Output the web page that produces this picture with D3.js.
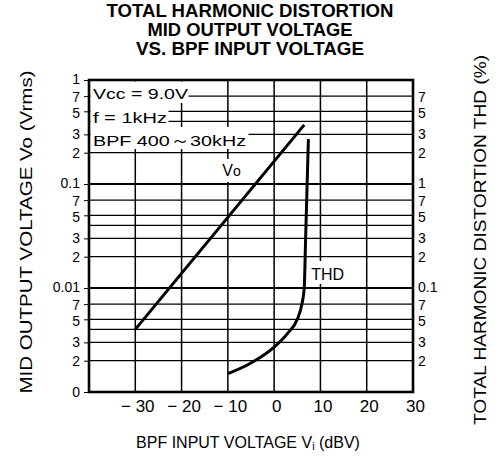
<!DOCTYPE html>
<html>
<head>
<meta charset="utf-8">
<script src="https://cdn.jsdelivr.net/npm/d3@7"></script>
<style>
  html, body { margin: 0; padding: 0; background: #fff; }
  svg { display: block; }
  text { font-family: "Liberation Sans", Arial, sans-serif; fill: #000; }
</style>
</head>
<body>
<svg id="chart" width="502" height="457"></svg>
<script>
// ---- data ----
const titleLines = ["TOTAL HARMONIC DISTORTION", "MID OUTPUT VOLTAGE", "VS. BPF INPUT VOLTAGE"];
const xTicks = [-30, -20, -10, 0, 10, 20, 30];
const xTickLabels = ["\u2212 30", "\u2212 20", "\u2212 10", "0", "10", "20", "30"];
const leftTickValues = [1, 0.7, 0.5, 0.3, 0.2, 0.1, 0.07, 0.05, 0.03, 0.02, 0.01, 0.007, 0.005, 0.003, 0.002, 0.001];
const leftTickLabels = ["1", "7", "5", "3", "2", "0.1", "7", "5", "3", "2", "0.01", "7", "5", "3", "2", "0"];
const rightTickValues = [7, 5, 3, 2, 1, 0.7, 0.5, 0.3, 0.2, 0.1, 0.07, 0.05, 0.03, 0.02];
const rightTickLabels = ["7", "5", "3", "2", "1", "7", "5", "3", "2", "0.1", "7", "5", "3", "2"];
const gridMultipliers = [2, 3, 4, 5, 7];
const decades = [0.001, 0.01, 0.1];
// Vo (Vrms) vs Vi (dBV)
const voVin = [-30, 6.5];
const voValues = [0.004, 0.37];
// THD (%) vs Vi (dBV)
const thdVin = [-10, -5, 0, 3, 5, 6, 6.5, 6.8, 7.1, 7.4];
const thdValues = [0.015, 0.019, 0.027, 0.037, 0.05, 0.07, 0.1, 0.3, 0.9, 2.7];
const conditions = ["Vcc = 9.0V", "f = 1kHz", "BPF  400\uFF5E30kHz"];

// ---- layout ----
const L = 89, R = 413, T = 80, B = 392;
const svg = d3.select("#chart");
const x = d3.scaleLinear().domain([-40, 30]).range([L, R]);
const yL = d3.scaleLog().domain([0.001, 1]).range([B, T]);
const yR = d3.scaleLog().domain([0.01, 10]).range([B, T]);

// title
const titleY = [17, 36, 55];
const titleW = [287, 205, 228];
titleLines.forEach((t, i) => {
  svg.append("text").attr("x", 250).attr("y", titleY[i]).attr("text-anchor", "middle")
    .attr("font-weight", "bold").attr("font-size", 18)
    .attr("textLength", titleW[i]).attr("lengthAdjust", "spacingAndGlyphs").text(t);
});

// grid
const minorVals = [];
decades.forEach(d => gridMultipliers.forEach(m => minorVals.push(+(d * m).toPrecision(3))));
const g = svg.append("g");
g.selectAll("line.hmin").data(minorVals).join("line")
  .attr("x1", L).attr("x2", R).attr("y1", d => yL(d)).attr("y2", d => yL(d))
  .attr("stroke", "#000").attr("stroke-width", 1.3);
g.selectAll("line.hmaj").data([0.01, 0.1]).join("line")
  .attr("x1", L).attr("x2", R).attr("y1", d => yL(d)).attr("y2", d => yL(d))
  .attr("stroke", "#000").attr("stroke-width", 2);
g.selectAll("line.v").data(xTicks.slice(0, -1)).join("line")
  .attr("x1", d => x(d)).attr("x2", d => x(d)).attr("y1", T).attr("y2", B)
  .attr("stroke", "#000").attr("stroke-width", 1.5);

// white masks behind in-plot labels
const condY = [99, 123, 146];
const condW = [98, 78, 158];
const condMaskTop = [T + 1.5, 103, 127];
const condMaskBot = [103, 127, 149];
conditions.forEach((c, i) => {
  svg.append("rect").attr("x", L + 1.5).attr("y", condMaskTop[i])
    .attr("width", condW[i]).attr("height", condMaskBot[i] - condMaskTop[i]).attr("fill", "#fff");
});
svg.append("rect").attr("x", x(-11.8)).attr("y", 159).attr("width", 24).attr("height", 23).attr("fill", "#fff");
svg.append("rect").attr("x", x(7.2)).attr("y", 261).attr("width", 44).attr("height", 23).attr("fill", "#fff");

conditions.forEach((c, i) => {
  svg.append("text").attr("x", 93).attr("y", condY[i]).attr("font-size", 15.5)
    .attr("textLength", [95, 74, 153][i]).attr("lengthAdjust", "spacingAndGlyphs").text(c);
});
const voLab = svg.append("text").attr("x", x(-11.2)).attr("y", 176).attr("font-size", 16);
voLab.append("tspan").text("V");
voLab.append("tspan").attr("font-size", 14).text("o");
svg.append("text").attr("x", x(8)).attr("y", 280).attr("font-size", 16).text("THD");

// frame
svg.append("rect").attr("x", L).attr("y", T).attr("width", R - L).attr("height", B - T)
  .attr("fill", "none").attr("stroke", "#000").attr("stroke-width", 2.6);

// small vertical nudges of crowded labels
const nudge = lab => lab === "7" ? 0.5 : (lab === "5" ? 1.5 : (lab.length > 1 || lab === "1" ? -0.5 : 0));

// axes (labels only)
const axL = d3.axisLeft(yL).tickValues(leftTickValues)
  .tickFormat((d, i) => leftTickLabels[i]).tickSize(4).tickPadding(4);
const gL = svg.append("g").attr("transform", `translate(${L - 1},0)`).call(axL);
gL.select(".domain").remove();
gL.selectAll("text").attr("font-size", 14).attr("font-family", "Liberation Sans, Arial, sans-serif")
  .attr("transform", (d, i) => `translate(0,${nudge(leftTickLabels[i])}) scale(1.06,1.15)`)
  .attr("transform", (d, i) => `translate(0,${nudge(leftTickLabels[i])})`);

const axR = d3.axisRight(yR).tickValues(rightTickValues)
  .tickFormat((d, i) => rightTickLabels[i]).tickSize(0).tickPadding(5);
const gR = svg.append("g").attr("transform", `translate(${R},0)`).call(axR);
gR.select(".domain").remove();
gR.selectAll("text").attr("font-size", 14).attr("font-family", "Liberation Sans, Arial, sans-serif")
  .attr("transform", (d, i) => `translate(0,${nudge(rightTickLabels[i])})`);

const axB = d3.axisBottom(x).tickValues(xTicks)
  .tickFormat((d, i) => xTickLabels[i]).tickSize(0).tickPadding(8);
const gB = svg.append("g").attr("transform", `translate(2,${B})`).call(axB);
gB.select(".domain").remove();
gB.selectAll("text").attr("font-size", 17).attr("font-family", "Liberation Sans, Arial, sans-serif");

// curves
const voLine = d3.line().x(d => x(d[0])).y(d => yL(d[1]));
svg.append("path").datum(voVin.map((v, i) => [v, voValues[i]]))
  .attr("d", voLine).attr("fill", "none").attr("stroke", "#000").attr("stroke-width", 3);
const thdLine = d3.line().x(d => x(d[0])).y(d => yR(d[1])).curve(d3.curveMonotoneX);
svg.append("path").datum(thdVin.map((v, i) => [v, thdValues[i]]))
  .attr("d", thdLine).attr("fill", "none").attr("stroke", "#000").attr("stroke-width", 3);

// axis titles
svg.append("text").attr("transform", "translate(32,232) rotate(-90)").attr("text-anchor", "middle")
  .attr("font-size", 17).attr("textLength", 323).attr("lengthAdjust", "spacingAndGlyphs")
  .text("MID OUTPUT VOLTAGE Vo (Vrms)");
svg.append("text").attr("transform", "translate(486,240) rotate(-90)").attr("text-anchor", "middle")
  .attr("font-size", 17).attr("textLength", 370).attr("lengthAdjust", "spacingAndGlyphs")
  .text("TOTAL HARMONIC DISTORTION THD (%)");
const xt = svg.append("text").attr("x", 248).attr("y", 448).attr("text-anchor", "middle")
  .attr("font-size", 16);
xt.append("tspan").text("BPF INPUT VOLTAGE V");
xt.append("tspan").attr("font-size", 11).attr("dy", 2).text("i");
xt.append("tspan").attr("dy", -2).text(" (dBV)");
</script>
</body>
</html>
